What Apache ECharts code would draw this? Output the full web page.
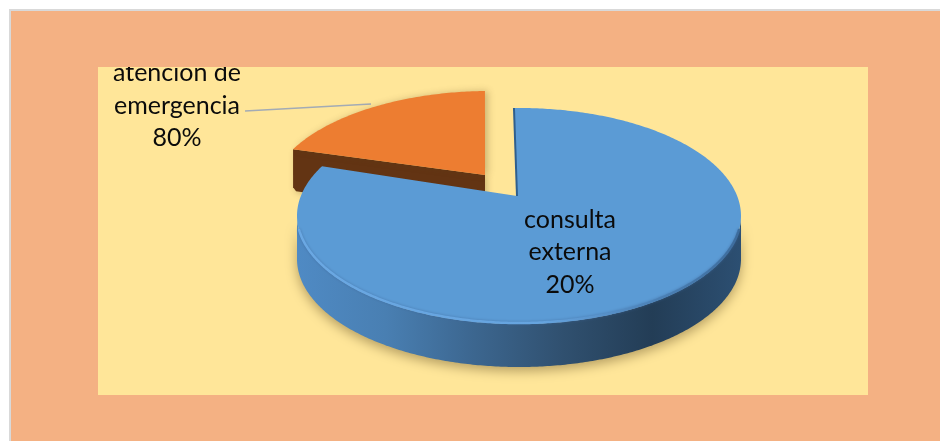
<!DOCTYPE html>
<html>
<head>
<meta charset="utf-8">
<style>html,body{margin:0;padding:0;background:#fff}#c{width:940px;height:441px}</style>
<script src="https://cdn.jsdelivr.net/npm/echarts@6/dist/echarts.min.js"></script>
</head>
<body>
<div id="c"></div>
<script>
const categories = ['consulta\nexterna', 'atencion de\nemergencia'];
const sliceShares = [83, 17];
const labelPercents = ['20%', '80%'];

const startDeg = -1.3;
const rx = 222, ry = 108, depth = 43;
const layout = [
  {cx: 519, cy: 216, px: -2, py: -20, top: '#5B9BD5', z: 2, tx: 570, ty: 252},
  {cx: 490, cy: 199, px: -5, py: -24, top: '#ED7D31', z: 1, tx: 177, ty: 105.5}
];
const total = sliceShares.reduce((a, b) => a + b, 0);

function pt(l, deg, dy) {
  const t = deg * Math.PI / 180;
  return [l.cx + rx * Math.sin(t), l.cy - ry * Math.cos(t) + (dy || 0)];
}
function arc(l, a, b, dy) {
  const n = Math.max(2, Math.ceil(Math.abs(b - a) * 1.5)), out = [];
  for (let i = 0; i <= n; i++) out.push(pt(l, a + (b - a) * i / n, dy));
  return out;
}
const wallFill = {
  type: 'linear', x: 0, y: 0, x2: 1, y2: 0,
  colorStops: [
    {offset: 0, color: '#4F8AC4'}, {offset: 0.2, color: '#497FB2'},
    {offset: 0.4, color: '#3C668F'}, {offset: 0.6, color: '#30506F'},
    {offset: 0.8, color: '#233D56'}, {offset: 1, color: '#2C4F72'}
  ]
};
const rimStroke = {
  type: 'linear', x: 0, y: 0, x2: 1, y2: 0,
  colorStops: [
    {offset: 0, color: '#6AA8E3'}, {offset: 0.55, color: '#66A4DF'},
    {offset: 0.8, color: '#4C82B8'}, {offset: 1, color: '#3D6C9C'}
  ]
};

function renderSlice(params, api) {
  const i = params.dataIndex;
  const l = layout[i];
  let before = 0;
  for (let k = 0; k < i; k++) before += sliceShares[k];
  const a = startDeg + before / total * 360;
  const b = a + api.value(0) / total * 360;
  const pivot = [l.cx + l.px, l.cy + l.py];
  const children = [];
  if (i === 0) {
    const upper = arc(l, 90, 270);
    const lower = arc(l, 270, 90, depth);
    children.push({
      type: 'polygon', z2: l.z,
      shape: {points: upper.concat(lower)},
      style: {fill: wallFill, shadowBlur: 12, shadowColor: 'rgba(90,70,30,0.45)', shadowOffsetY: 4}
    });
    children.push({
      type: 'polygon', z2: l.z,
      shape: {points: [pivot].concat(arc(l, a, b))},
      style: {fill: l.top}
    });
    children.push({
      type: 'polyline', z2: l.z,
      shape: {points: arc(l, 262, 98).map(p => [p[0], p[1] - 1])},
      style: {stroke: rimStroke, lineWidth: 2.5, lineCap: 'round', fill: 'none', shadowBlur: 3, shadowColor: 'rgba(60,100,150,0.6)'}
    });
    children.push({
      type: 'line', z2: l.z,
      shape: {x1: pt(l, a)[0], y1: pt(l, a)[1], x2: pivot[0], y2: pivot[1]},
      style: {stroke: '#2F5F8E', lineWidth: 2}
    });
  } else {
    const c = pt(l, a), v = pivot;
    children.push({
      type: 'polygon', z2: l.z,
      shape: {points: [c, v, [v[0], v[1] + depth], [c[0] + 3, c[1] + depth - 1], [c[0], c[1] + depth - 5]]},
      style: {fill: '#633413', shadowBlur: 6, shadowColor: 'rgba(90,70,30,0.3)', shadowOffsetX: 2, shadowOffsetY: 2}
    });
    children.push({
      type: 'polygon', z2: l.z,
      shape: {points: [pivot].concat(arc(l, a, b))},
      style: {fill: l.top, shadowBlur: 7, shadowColor: 'rgba(90,70,30,0.3)', shadowOffsetX: 3}
    });
  }
  children.push({
    type: 'text', z2: 10,
    style: {
      x: l.tx, y: l.ty, text: categories[i] + '\n' + labelPercents[i],
      font: '25px Lato', lineHeight: 32.5, fill: '#0b0b0b', align: 'center', verticalAlign: 'middle'
    }
  });
  return {type: 'group', children};
}

const chart = echarts.init(document.getElementById('c'), null, {renderer: 'canvas'});
chart.setOption({
  animation: false,
  backgroundColor: '#FFFFFF',
  graphic: {elements: [
    {type: 'rect', z: -5, shape: {x: 10, y: 10, width: 935, height: 436}, style: {fill: '#F4B183', stroke: '#D9D9D9', lineWidth: 2}},
    {type: 'rect', z: -4, shape: {x: 98, y: 67, width: 770, height: 328}, style: {fill: '#FFE699'}},
    {type: 'line', z: 1, shape: {x1: 245, y1: 111, x2: 371, y2: 104}, style: {stroke: '#A3ABB5', lineWidth: 1.5}},
    {type: 'rect', z: 50, shape: {x: 90, y: 11, width: 300, height: 56}, style: {fill: '#F4B183'}}
  ]},
  series: [{
    type: 'custom',
    coordinateSystem: 'none',
    z: 5,
    silent: true,
    renderItem: renderSlice,
    data: sliceShares.map((v, i) => ({value: [v], name: categories[i]}))
  }]
});
</script>
</body>
</html>
